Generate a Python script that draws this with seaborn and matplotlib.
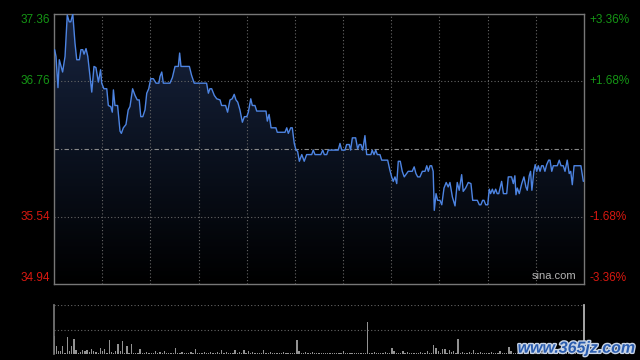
import matplotlib
matplotlib.use("Agg")
import matplotlib.pyplot as plt
import matplotlib.patheffects as pe
from matplotlib.colors import LinearSegmentedColormap
from matplotlib.patches import PathPatch
import seaborn as sns
import numpy as np
import pandas as pd

# intraday trace: minutes since open, price
minutes = [0.3, 0.9, 1.8, 2.4, 3.9, 5.0, 6.0, 6.9, 7.6, 8.5, 9.5, 10.3, 11.5, 12.2, 13.0, 13.6, 14.5, 15.3, 16.3, 17.1,
           18.1, 19.0, 20.1, 21.1, 21.6, 22.6, 23.9, 24.6, 25.7, 26.4, 26.9, 27.6, 28.8, 29.9, 30.5, 31.4, 32.6, 33.6, 34.4, 35.6,
           36.7, 37.7, 38.6, 39.3, 40.2, 41.2, 42.0, 42.9, 43.8, 45.0, 46.2, 47.5, 48.0, 48.8, 49.5, 52.5, 53.6, 54.8, 56.3, 56.9,
           57.5, 61.3, 62.3, 63.5, 69.1, 69.9, 70.6, 71.4, 72.6, 73.7, 75.2, 75.9, 77.7, 78.6, 79.7, 80.7, 81.6, 82.4, 83.2, 84.2,
           85.3, 86.2, 87.3, 88.0, 89.1, 89.8, 91.0, 91.8, 96.0, 96.6, 97.4, 98.3, 100.5, 101.1, 104.6, 105.4, 106.1, 107.2, 107.9, 108.8,
           109.6, 110.3, 111.1, 112.2, 113.3, 114.4, 116.7, 117.4, 118.2, 120.8, 121.7, 122.4, 123.5, 124.2, 128.7, 129.5, 130.3, 131.8, 132.5, 133.7,
           134.3, 135.1, 136.6, 137.5, 138.2, 139.0, 139.8, 140.8, 141.6, 143.5, 144.1, 144.9, 145.7, 146.4, 147.6, 148.4, 151.1, 152.1, 152.9, 153.6,
           154.4, 155.2, 155.9, 156.8, 157.7, 158.6, 159.7, 160.4, 162.2, 163.1, 163.9, 164.7, 165.7, 166.8, 168.0, 168.8, 169.5, 170.3, 171.0, 171.7,
           172.2, 173.0, 173.7, 174.8, 175.6, 176.6, 177.6, 178.5, 179.3, 180.4, 181.6, 182.6, 183.5, 184.6, 185.3, 186.4, 187.6, 188.8, 189.6, 191.7,
           192.6, 193.3, 194.1, 194.7, 195.5, 196.4, 197.1, 197.7, 198.5, 199.2, 200.0, 200.7, 201.4, 202.7, 203.5, 205.0, 205.7, 207.2, 208.0, 208.7,
           209.2, 209.8, 210.7, 211.8, 212.8, 213.7, 214.3, 215.2, 215.8, 216.4, 217.3, 217.9, 218.6, 219.3, 220.1, 220.8, 221.5, 222.3, 223.1, 224.0,
           224.6, 225.4, 226.1, 227.9, 228.8, 229.6, 230.6, 231.4, 232.4, 233.3, 234.0, 234.7, 235.5, 238.6, 239.7]
prices = [37.04, 36.98, 36.70, 36.95, 36.84, 36.98, 37.35, 37.29, 37.29, 37.36, 37.10, 36.95, 36.95, 37.04, 37.04, 37.00, 37.05, 36.98, 36.80, 36.66,
          36.89, 36.88, 36.75, 36.86, 36.74, 36.69, 36.69, 36.54, 36.53, 36.48, 36.68, 36.54, 36.54, 36.31, 36.29, 36.34, 36.37, 36.50, 36.53, 36.69,
          36.63, 36.59, 36.59, 36.44, 36.44, 36.50, 36.65, 36.69, 36.78, 36.78, 36.74, 36.74, 36.80, 36.84, 36.74, 36.74, 36.79, 36.89, 36.89, 37.01,
          36.89, 36.89, 36.81, 36.74, 36.74, 36.65, 36.69, 36.69, 36.63, 36.60, 36.59, 36.54, 36.54, 36.48, 36.59, 36.60, 36.64, 36.59, 36.57, 36.50,
          36.39, 36.44, 36.44, 36.48, 36.60, 36.54, 36.54, 36.49, 36.49, 36.40, 36.46, 36.34, 36.34, 36.30, 36.30, 36.34, 36.29, 36.34, 36.34, 36.20,
          36.14, 36.13, 36.04, 36.10, 36.04, 36.10, 36.10, 36.14, 36.10, 36.10, 36.14, 36.10, 36.10, 36.14, 36.14, 36.20, 36.14, 36.14, 36.19, 36.19,
          36.14, 36.25, 36.25, 36.15, 36.19, 36.19, 36.14, 36.27, 36.10, 36.10, 36.14, 36.10, 36.14, 36.10, 36.10, 36.05, 36.05, 35.96, 35.90, 35.86,
          35.90, 35.84, 36.04, 36.04, 35.95, 35.90, 35.93, 35.95, 35.95, 35.99, 35.93, 35.90, 35.90, 35.95, 35.95, 36.00, 35.95, 36.00, 36.00, 35.95,
          35.60, 35.75, 35.69, 35.69, 35.65, 35.80, 35.85, 35.81, 35.85, 35.72, 35.64, 35.85, 35.78, 35.92, 35.77, 35.80, 35.85, 35.84, 35.69, 35.69,
          35.65, 35.65, 35.69, 35.69, 35.65, 35.65, 35.79, 35.75, 35.79, 35.75, 35.79, 35.75, 35.75, 35.86, 35.75, 35.75, 35.90, 35.90, 35.84, 35.91,
          35.74, 35.80, 35.75, 35.84, 35.90, 35.81, 35.78, 35.91, 35.95, 35.78, 35.95, 36.01, 35.95, 36.00, 35.95, 36.00, 36.00, 35.95, 36.01, 36.05,
          36.05, 35.95, 36.00, 36.00, 36.05, 36.00, 36.00, 35.95, 36.05, 35.93, 35.95, 35.83, 36.00, 36.00, 35.86]

# per-minute volume (relative units)
volume = [18, 8, 3, 3, 8, 1, 17, 3, 8, 15, 4, 1, 2, 4, 3, 4, 2, 5, 3, 2,
          1, 6, 3, 5, 1, 14, 2, 1, 3, 10, 3, 13, 1, 8, 1, 10, 1, 1, 1, 5,
          1, 1, 2, 1, 1, 1, 3, 1, 2, 1, 3, 1, 1, 1, 1, 6, 1, 1, 2, 1,
          1, 1, 2, 1, 5, 1, 1, 1, 2, 1, 1, 2, 1, 1, 2, 1, 4, 1, 2, 1,
          1, 1, 4, 1, 2, 1, 4, 1, 3, 1, 2, 1, 1, 1, 1, 4, 1, 1, 2, 1,
          1, 1, 1, 1, 2, 1, 1, 1, 1, 1, 14, 3, 1, 1, 2, 1, 1, 2, 1, 1,
          1, 1, 1, 1, 1, 1, 1, 1, 1, 1, 1, 3, 1, 1, 1, 1, 1, 1, 1, 1,
          1, 1, 32, 1, 1, 2, 1, 1, 1, 1, 2, 1, 1, 6, 3, 1, 1, 1, 3, 1,
          2, 1, 1, 1, 1, 1, 2, 1, 1, 3, 1, 1, 9, 6, 3, 1, 5, 5, 1, 4,
          2, 3, 1, 15, 1, 2, 1, 1, 2, 1, 4, 1, 1, 2, 1, 1, 1, 1, 2, 1,
          1, 1, 3, 1, 1, 1, 7, 3, 1, 1, 1, 1, 2, 1, 1, 4, 1, 1, 3, 1,
          1, 2, 1, 1, 5, 1, 1, 2, 1, 4, 1, 1, 3, 1, 1, 2, 1, 1, 4, 3]

prev_close = 36.15
price_ticks = [37.36, 36.76, 35.54, 34.94]
pct_labels = ['+3.36%', '+1.68%', '-1.68%', '-3.36%']
tick_colors = ['#159515', '#159515', '#d81810', '#d81810']
label_va = ['top', 'center', 'center', 'bottom']

sns.set_theme(style='dark', rc={'figure.facecolor': 'black', 'axes.facecolor': 'black',
                                'savefig.facecolor': 'black'})
plt.rcParams['font.family'] = ['Liberation Sans', 'DejaVu Sans']

fig = plt.figure(figsize=(6.4, 3.6), dpi=100)
ax = fig.add_axes([54 / 640, 1 - 284 / 360, 530 / 640, 270 / 360])
vax = fig.add_axes([54 / 640, 1 - 354 / 360, 530 / 640, 49 / 360])

df = pd.DataFrame({'minute': minutes, 'price': prices})
ymin, ymax = price_ticks[-1], price_ticks[0]

# gradient fill under the line
fill = ax.fill_between(df['minute'], df['price'], ymin, color='none', lw=0)
clip = PathPatch(fill.get_paths()[0], transform=ax.transData, facecolor='none', edgecolor='none')
ax.add_patch(clip)
cmap = LinearSegmentedColormap.from_list('navy', ['#000000', '#0b1220', '#18243f'])
img = ax.imshow(np.linspace(0, 1, 256).reshape(-1, 1), cmap=cmap, aspect='auto',
                extent=[0, 240, ymin, ymax], origin='lower', zorder=1)
img.set_clip_path(clip)

sns.lineplot(data=df, x='minute', y='price', ax=ax, color='#4d84e2', lw=1.0, zorder=3)

grid_kw = dict(color='#666666', lw=0.8, ls=(0, (1, 2)))
for k in range(1, 11):
    ax.axvline(k * 240 / 11, zorder=2, **grid_kw)
for p in [36.76, 35.54]:
    ax.axhline(p, zorder=2, **grid_kw)
ax.axhline(prev_close, color='#8a8a8a', lw=0.8, ls=(0, (4, 2, 1, 2)), zorder=2)

ax.set_xlim(0, 240)
ax.set_ylim(ymin, ymax)
ax.set_xticks([])
ax.set_yticks(price_ticks)
ax.set_yticklabels([f'{p:.2f}' for p in price_ticks], fontsize=8.5)
for lab, c, va in zip(ax.get_yticklabels(), tick_colors, label_va):
    lab.set_color(c)
    lab.set_va(va)
ax.tick_params(axis='y', length=0, pad=3)
ax.set_xlabel('')
ax.set_ylabel('')
ax.grid(False)
for s in ax.spines.values():
    s.set_visible(True)
    s.set_color('#777777')
    s.set_linewidth(1.0)

ax2 = ax.twinx()
ax2.set_ylim(ymin, ymax)
ax2.set_yticks(price_ticks)
ax2.set_yticklabels(pct_labels, fontsize=8.5)
for lab, c, va in zip(ax2.get_yticklabels(), tick_colors, label_va):
    lab.set_color(c)
    lab.set_va(va)
ax2.tick_params(axis='y', length=0, pad=4)
ax2.grid(False)
for s in ax2.spines.values():
    s.set_visible(False)

ax.text(0.985, 0.012, 'sina.com', transform=ax.transAxes, ha='right', va='bottom',
        color='#b4b4b4', fontsize=8, zorder=4)

# volume panel
vdf = pd.DataFrame({'minute': np.arange(len(volume)), 'volume': volume})
sns.barplot(data=vdf, x='minute', y='volume', native_scale=True, color='#929292',
            width=0.6, linewidth=0, saturation=1, ax=vax)
vax.set_xlim(0, 240)
vax.set_ylim(0, 49)
vax.axhline(24.5, **grid_kw)
vax.axhline(49, **grid_kw)
vax.set_xticks([])
vax.set_yticks([])
vax.set_xlabel('')
vax.set_ylabel('')
vax.grid(False)
vax.spines['top'].set_visible(False)
vax.spines['bottom'].set_visible(False)
vax.spines['left'].set_color('#777777')
vax.spines['right'].set_color('#bbbbbb')

fig.text(0.993, 0.012, 'www.365jz.com', ha='right', va='bottom', color='#2a5cae',
         fontsize=11.5, fontweight='bold', fontstyle='italic',
         path_effects=[pe.withStroke(linewidth=2, foreground='#c8d4e6')])

fig.savefig('out.png', dpi=100, facecolor='black')
